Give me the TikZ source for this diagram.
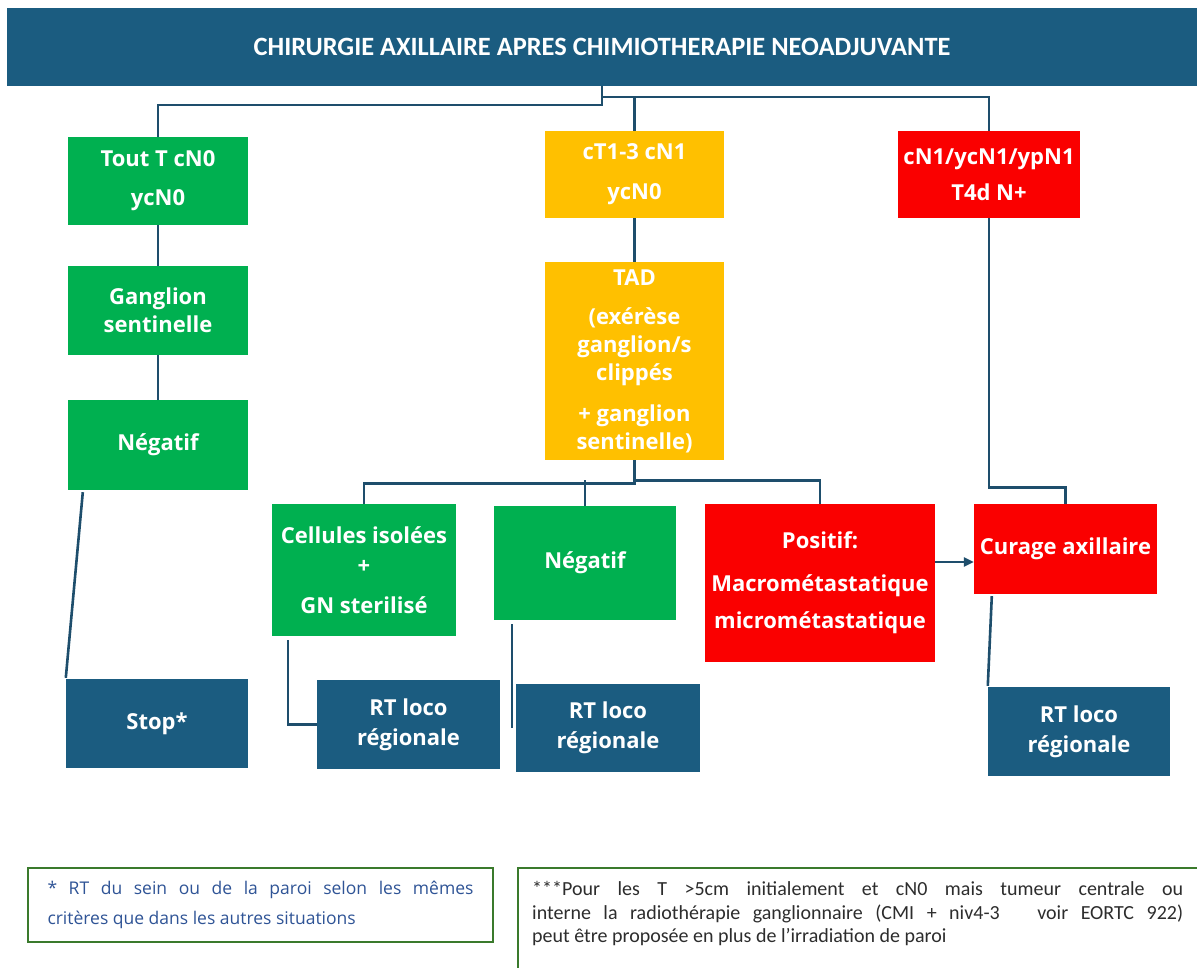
\documentclass[tikz,border=0pt]{standalone}
\usepackage{fontspec}
\setmainfont{Open Sans}
\newfontfamily\hdrfont{Carlito}
\newfontfamily\boxfont{Open Sans}
\newfontfamily\noteafont{Open Sans}
\newfontfamily\notebfont{Carlito}
\usetikzlibrary{arrows.meta,calc}

\definecolor{navy}{RGB}{27,92,128}
\definecolor{okgreen}{RGB}{0,176,80}
\definecolor{amber}{RGB}{255,192,0}
\definecolor{alert}{RGB}{250,0,0}
\definecolor{linec}{RGB}{30,78,108}
\definecolor{noteframe}{RGB}{58,122,44}
\definecolor{noteblue}{RGB}{47,84,150}
\definecolor{notegray}{RGB}{45,45,45}

\tikzset{
  conn/.style={draw=linec, line width=2.6pt},
  box/.style={rectangle, inner sep=0pt, text=white, align=center,
    font=\boxfont\bfseries\fontsize{22}{28}\selectfont},
  gbox/.style={box, fill=okgreen},
  ybox/.style={box, fill=amber},
  rbox/.style={box, fill=alert},
  bbox/.style={box, fill=navy},
  notebox/.style={rectangle, draw=noteframe, line width=2.6pt, inner sep=0pt},
}

\begin{document}
\begin{tikzpicture}[x=1pt,y=-1pt]
  \clip (0,0) rectangle (1197,968);
  \fill[white] (0,0) rectangle (1197,968);

  % title bar
  \node[box, fill=navy, minimum width=1190pt, minimum height=78pt,
        font=\hdrfont\bfseries\fontsize{26.4}{30}\selectfont] (hdr) at (602,47)
        {CHIRURGIE AXILLAIRE APRES CHIMIOTHERAPIE NEOADJUVANTE};

  % left column
  \node[gbox, minimum width=180pt, minimum height=88pt] (t1) at (158,181)
        {Tout T cN0\\[11pt]ycN0};
  \node[gbox, minimum width=180pt, minimum height=89pt] (g1) at (158,310.5)
        {Ganglion\\sentinelle};
  \node[gbox, minimum width=180pt, minimum height=90pt] (n1) at (158,445)
        {Négatif};
  \node[bbox, minimum width=182pt, minimum height=89pt] (stop) at (157,723.5)
        {Stop*};

  % middle column
  \node[ybox, minimum width=179pt, minimum height=87pt] (y1) at (634.5,174.5)
        {cT1-3 cN1\\[12pt]ycN0};
  \node[ybox, minimum width=179pt, minimum height=198pt] (tad) at (634.5,361)
        {TAD\\[11pt](exérèse\\ganglion/s\\clippés\\[13pt]+ ganglion\\sentinelle)};

  % right column
  \node[rbox, minimum width=182pt, minimum height=87pt] (r1) at (989,174.5)
        {cN1/ycN1/ypN1\\[8pt]T4d N+};

  % results after TAD
  \node[gbox, minimum width=184pt, minimum height=132pt] (cel) at (364,570)
        {Cellules isolées\\[2pt]+\\[12pt]GN sterilisé};
  \node[gbox, minimum width=182pt, minimum height=114pt] (n2) at (585,563)
        {Négatif};
  \node[rbox, minimum width=230pt, minimum height=158pt] (pos) at (820,583)
        {Positif:\\[15pt]Macrométastatique\\[9pt]micrométastatique};
  \node[rbox, minimum width=183pt, minimum height=90pt] (cur) at (1065.5,549)
        {Curage axillaire};

  % radiotherapy boxes
  \node[bbox, minimum width=183pt, minimum height=89pt] (rt1) at (408.5,724.5)
        {RT loco\\[2pt]régionale};
  \node[bbox, minimum width=184pt, minimum height=88pt] (rt2) at (608,728)
        {RT loco\\[2pt]régionale};
  \node[bbox, minimum width=182pt, minimum height=89pt] (rt3) at (1079,731.5)
        {RT loco\\[2pt]régionale};

  % connectors from the title bar
  \draw[conn] (hdr.south) -- ++(0,19) -| (t1.north);
  \draw[conn] ($(hdr.south)+(0,11)$) -| (r1.north);
  \draw[conn] (y1.north) -- ++(0,-33);

  % left column links
  \draw[conn] (t1) -- (g1);
  \draw[conn] (g1) -- (n1);
  \draw[conn] ($(n1.south west)+(15,2)$) -- ($(stop.north west)+(0,-1)$);

  % middle column links
  \draw[conn] (y1) -- (tad);
  \draw[conn] (tad.south) -- ++(0,23) -| (cel.north);
  \draw[conn] ($(tad.south)+(0,20)$) -| (pos.north);
  \draw[conn] (n2.north) -- ++(0,-26);

  % right column links
  \draw[conn] (r1.south) -- ++(0,269) -| (cur.north);
  \draw[conn, -{Triangle[length=10pt,width=9pt]}]
        ($(pos.east)+(0,-21)$) -- ($(pos.east -| cur.west)+(0,-21)$);
  \draw[conn] ($(cur.south west)+(18,2)$) -- ($(rt3.north west)+(0,-1)$);

  % links to radiotherapy
  \draw[conn] ($(cel.south west)+(16,4)$) |- (rt1.west);
  \draw[conn] ($(n2.south west)+(18,4)$) -- ($(rt2.west)+(-4,0)$);

  % footnotes
  \node[notebox, minimum width=465pt, minimum height=74pt,
        font=\noteafont\fontsize{17.5}{30}\selectfont, text=noteblue] (fn1) at (260.5,905)
        {\parbox{426pt}{\makebox[426pt][s]{* RT du sein ou de la paroi selon les mêmes}\\
         critères que dans les autres situations}};
  \draw[notebox] (518,868) rectangle (1205,980);
  \node[anchor=west, inner sep=0pt, text=notegray,
        font=\notebfont\fontsize{20}{23.5}\selectfont] (fn2) at (532,914)
        {\parbox{651pt}{\makebox[651pt][s]{***Pour les T >5cm initialement et cN0 mais tumeur centrale ou}\\
         \makebox[651pt][s]{interne la radiothérapie ganglionnaire (CMI + niv4-3\ \ \ voir EORTC 922)}\\
         peut être proposée en plus de l’irradiation de paroi}};
\end{tikzpicture}
\end{document}
